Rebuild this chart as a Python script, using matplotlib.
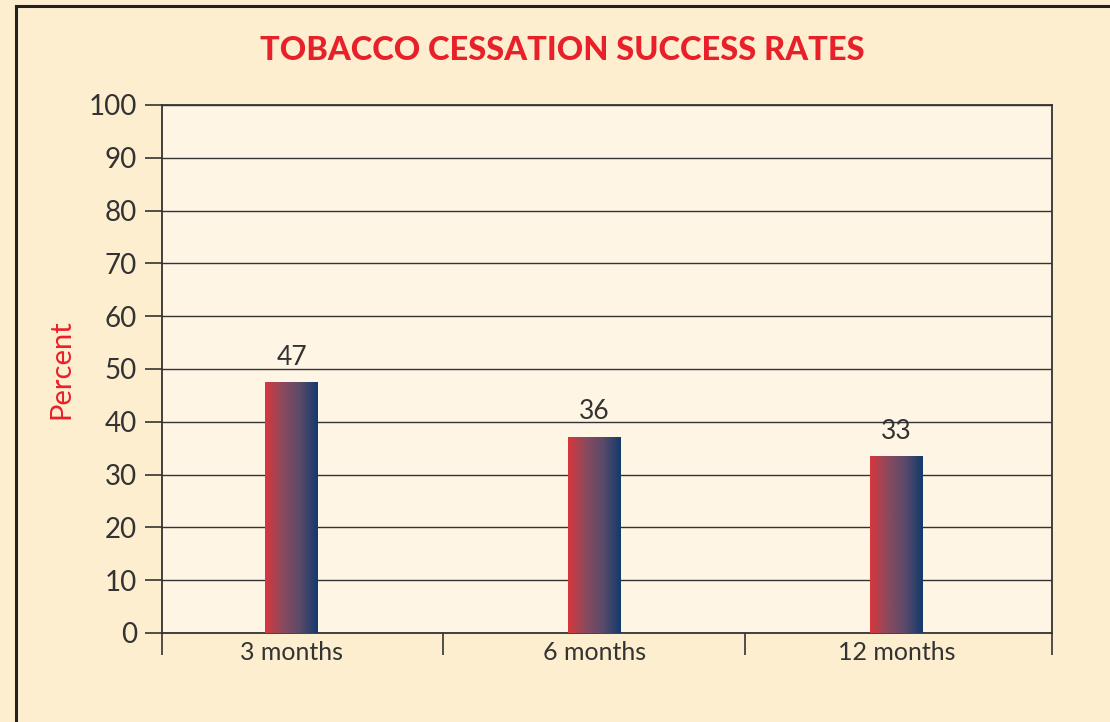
import numpy as np
import matplotlib.pyplot as plt
from matplotlib.colors import LinearSegmentedColormap
from matplotlib.lines import Line2D

# Data
categories = ['3 months', '6 months', '12 months']
bar_heights = [47.6, 37.2, 33.5]
value_labels = ['47', '36', '33']
y_ticks = [0, 10, 20, 30, 40, 50, 60, 70, 80, 90, 100]

outer_bg = '#fdeecf'
inner_bg = '#fff5e5'
text_col = '#333333'
red = '#e8202a'

plt.rcParams['font.family'] = ['Lato', 'DejaVu Sans']

fig = plt.figure(figsize=(11.1, 7.22), dpi=100)
fig.patch.set_facecolor(outer_bg)
ax = fig.add_axes([0.1459, 0.1233, 0.8018, 0.7313])
ax.set_facecolor(inner_bg)

x = np.arange(len(categories))
bars = ax.bar(x, bar_heights, width=0.175, facecolor='none', edgecolor='none', zorder=3)

# gradient fill, red on the left to navy on the right
cmap = LinearSegmentedColormap.from_list('grad', ['#d8373d', '#8a4a5e', '#5a4a6a', '#123a6c'])
grad = np.linspace(0, 1, 256).reshape(1, -1)
for b, lab in zip(bars, value_labels):
    x0, w, h = b.get_x(), b.get_width(), b.get_height()
    im = ax.imshow(grad, cmap=cmap, aspect='auto', extent=[x0, x0 + w, 0, h], zorder=3)
    im.set_clip_path(b)
    ax.text(x0 + w / 2, h + 2.3, lab, ha='center', va='bottom', fontsize=19, color=text_col)

ax.set_xlim(-0.43, len(categories) - 0.485)
ax.set_ylim(0, 100)
ax.set_yticks(y_ticks)
ax.yaxis.grid(True, color='#333333', linewidth=1.0)
ax.set_axisbelow(True)

ax.set_xticks(x)
ax.set_xticklabels(categories)
ax.set_xticks(list(ax.get_xlim()[:1]) + [0.5, 1.5] + list(ax.get_xlim()[1:]), minor=True)
ax.tick_params(axis='x', which='major', length=0, labelsize=18, labelcolor=text_col, pad=6)
ax.tick_params(axis='x', which='minor', length=16, width=1.2, color='#333333', direction='out')
ax.tick_params(axis='y', length=12, width=1.2, color='#333333', labelsize=20, labelcolor=text_col, pad=6)

for s in ax.spines.values():
    s.set_color('#333333')
    s.set_linewidth(1.3)

ax.set_ylabel('Percent', color=red, fontsize=21, labelpad=10)

fig.text(0.507, 0.93, 'TOBACCO CESSATION SUCCESS RATES', ha='center', va='center',
         fontsize=23.5, fontweight='black', color=red)

# outer frame lines (left and top)
fig.add_artist(Line2D([0.0144, 0.0144], [0, 0.991], transform=fig.transFigure, color='#222222', lw=2.2))
fig.add_artist(Line2D([0.0144, 1.0], [0.991, 0.991], transform=fig.transFigure, color='#222222', lw=2.2))

fig.savefig('out.png', dpi=100, facecolor=fig.get_facecolor())
